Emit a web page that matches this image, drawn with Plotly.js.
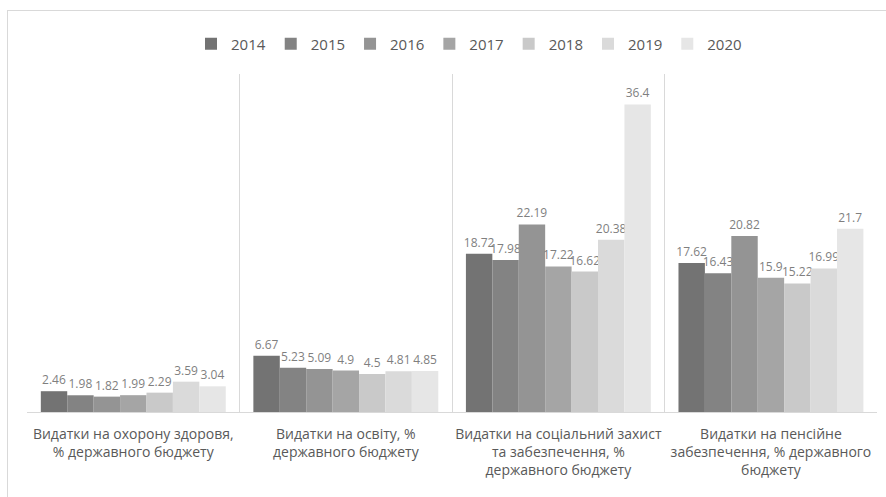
<!DOCTYPE html>
<html>
<head>
<meta charset="utf-8">
<script src="https://cdn.plot.ly/plotly-3.0.1.min.js"></script>
<style>
html,body{margin:0;padding:0;background:#fff;}
#chart{position:absolute;left:0;top:0;width:886px;height:497px;}
#frame{position:absolute;left:7px;top:10px;width:900px;height:500px;border:1px solid #d9d9d9;pointer-events:none;}
</style>
</head>
<body>
<div id="chart"></div>
<div id="frame"></div>
<script>
const categories = [
  "Видатки на охорону здоровя,<br>% державного бюджету",
  "Видатки на освіту, %<br>державного бюджету",
  "Видатки на соціальний захист<br>та забезпечення, %<br>державного бюджету",
  "Видатки на пенсійне<br>забезпечення, % державного<br>бюджету"
];
const years = ["2014","2015","2016","2017","2018","2019","2020"];
const v2014 = [2.46, 6.67, 18.72, 17.62];
const v2015 = [1.98, 5.23, 17.98, 16.43];
const v2016 = [1.82, 5.09, 22.19, 20.82];
const v2017 = [1.99, 4.9, 17.22, 15.9];
const v2018 = [2.29, 4.5, 16.62, 15.22];
const v2019 = [3.59, 4.81, 20.38, 16.99];
const v2020 = [3.04, 4.85, 36.4, 21.7];
const series = [v2014, v2015, v2016, v2017, v2018, v2019, v2020];
const colors = ["#737373","#838383","#949494","#a5a5a5","#c9c9c9","#dadada","#e6e6e6"];

const traces = series.map((vals, i) => ({
  type: "bar",
  name: years[i],
  x: categories,
  y: vals,
  text: vals.map(v => String(v)),
  textposition: "outside",
  constraintext: "none",
  cliponaxis: false,
  textfont: {family: "Open Sans", size: 12, color: "#7f7f7f"},
  marker: {color: colors[i], line: {width: 0}},
  hoverinfo: "none"
}));

const layout = {
  width: 886, height: 497,
  margin: {l: 27, r: 9, t: 74, b: 85},
  paper_bgcolor: "rgba(0,0,0,0)",
  plot_bgcolor: "#fff",
  barmode: "group",
  bargap: 0.13,
  bargroupgap: 0,
  font: {family: "Open Sans", color: "#595959"},
  showlegend: true,
  legend: {
    orientation: "h", x: 0.52, xanchor: "center", y: 1.089, yanchor: "middle",
    font: {family: "Open Sans", size: 15, color: "#595959"},
    itemwidth: 30, traceorder: "normal"
  },
  xaxis: {
    type: "category",
    tickson: "boundaries",
    showgrid: true,
    gridcolor: "#d9d9d9",
    gridwidth: 1,
    ticks: "",
    showline: true,
    linecolor: "#d9d9d9",
    linewidth: 1,
    range: [-0.5, 3.499],
    tickangle: 0,
    automargin: false,
    tickfont: {family: "Open Sans", size: 14, color: "#595959"},
    ticklabelstandoff: 9
  },
  yaxis: {
    range: [0, 40],
    visible: false,
    showgrid: false,
    zeroline: false
  }
};

Plotly.newPlot("chart", traces, layout, {staticPlot: true});
</script>
</body>
</html>
